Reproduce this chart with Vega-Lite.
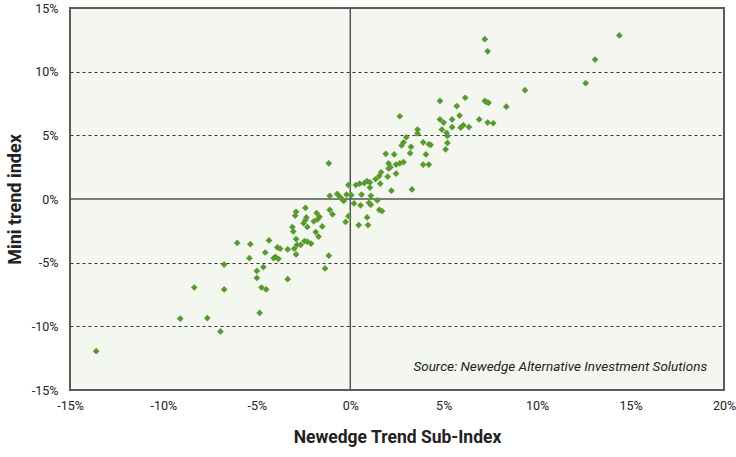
{
  "$schema": "https://vega.github.io/schema/vega-lite/v6.json",
  "width": 654,
  "height": 382,
  "autosize": "none",
  "padding": {"left": 70, "top": 8, "right": 12, "bottom": 67},
  "background": "white",
  "config": {
    "view": {"fill": "#f4f6f0", "stroke": "#5a5a5a", "strokeWidth": 2},
    "font": "Roboto"
  },
  "datasets": {
    "pts": [
      {"x": -13.6, "y": -11.95}, {"x": -9.1, "y": -9.4}, {"x": -8.35, "y": -6.95}, {"x": -7.65, "y": -9.35},
      {"x": -6.95, "y": -10.4}, {"x": -6.75, "y": -7.1}, {"x": -6.75, "y": -5.15}, {"x": -6.05, "y": -3.45},
      {"x": -5.35, "y": -3.55}, {"x": -5.4, "y": -4.65}, {"x": -5.0, "y": -5.65}, {"x": -5.0, "y": -6.2},
      {"x": -4.65, "y": -5.35}, {"x": -4.75, "y": -6.95}, {"x": -4.5, "y": -7.1}, {"x": -4.85, "y": -8.95},
      {"x": -4.35, "y": -3.25}, {"x": -4.55, "y": -4.2}, {"x": -3.9, "y": -3.8}, {"x": -4.0, "y": -4.55},
      {"x": -3.85, "y": -4.7}, {"x": -4.1, "y": -4.65}, {"x": -3.35, "y": -3.95}, {"x": -3.35, "y": -6.3},
      {"x": -3.75, "y": -3.9},
      {"x": -2.9, "y": -1.0}, {"x": -2.95, "y": -1.3}, {"x": -3.1, "y": -2.2}, {"x": -3.05, "y": -2.55},
      {"x": -2.9, "y": -3.15}, {"x": -2.85, "y": -3.6}, {"x": -3.0, "y": -3.9}, {"x": -2.9, "y": -4.35},
      {"x": -2.45, "y": -3.3}, {"x": -2.3, "y": -3.35}, {"x": -2.1, "y": -3.5}, {"x": -2.65, "y": -3.6},
      {"x": -2.4, "y": -0.7}, {"x": -2.4, "y": -1.65}, {"x": -2.3, "y": -2.2}, {"x": -2.5, "y": -1.9},
      {"x": -2.35, "y": -1.45}, {"x": -1.8, "y": -1.1}, {"x": -1.65, "y": -1.4}, {"x": -1.95, "y": -1.75},
      {"x": -1.75, "y": -1.6}, {"x": -1.5, "y": -2.15}, {"x": -1.85, "y": -2.6}, {"x": -1.7, "y": -2.95},
      {"x": -1.15, "y": -4.45}, {"x": -1.35, "y": -5.45}, {"x": -1.15, "y": 2.8}, {"x": -1.1, "y": 0.25},
      {"x": -0.7, "y": 0.4}, {"x": -0.55, "y": 0.15}, {"x": -0.45, "y": 0.0}, {"x": -0.35, "y": -0.15},
      {"x": -0.2, "y": 0.35}, {"x": 0.05, "y": 0.3}, {"x": -0.1, "y": 1.1}, {"x": -1.1, "y": -0.85},
      {"x": -0.95, "y": -1.2}, {"x": -0.1, "y": -1.35}, {"x": -0.25, "y": -1.8}, {"x": 0.2, "y": -0.35},
      {"x": 0.3, "y": 1.1}, {"x": 0.55, "y": -0.5}, {"x": 0.6, "y": 0.35}, {"x": 0.5, "y": 1.2},
      {"x": 0.75, "y": 1.25}, {"x": 0.9, "y": 1.4}, {"x": 1.05, "y": 1.3}, {"x": 1.05, "y": 0.9},
      {"x": 1.1, "y": 0.25}, {"x": 1.0, "y": -0.3}, {"x": 1.1, "y": -0.45}, {"x": 1.45, "y": -0.1},
      {"x": 1.35, "y": 1.55}, {"x": 1.55, "y": -0.85}, {"x": 1.7, "y": -0.95}, {"x": 0.9, "y": -1.45},
      {"x": 0.45, "y": -2.05}, {"x": 0.95, "y": -2.05}, {"x": 1.6, "y": 1.2}, {"x": 1.65, "y": 2.1},
      {"x": 1.55, "y": 1.8}, {"x": 2.0, "y": 1.75}, {"x": 2.45, "y": 2.0}, {"x": 2.05, "y": 2.4},
      {"x": 2.05, "y": 2.8}, {"x": 2.15, "y": 2.5}, {"x": 2.45, "y": 2.7}, {"x": 2.65, "y": 2.8},
      {"x": 2.85, "y": 2.9}, {"x": 1.9, "y": 3.55}, {"x": 2.35, "y": 3.5}, {"x": 3.2, "y": 3.6},
      {"x": 4.05, "y": 3.5}, {"x": 3.9, "y": 2.7}, {"x": 4.2, "y": 2.7}, {"x": 3.3, "y": 0.75},
      {"x": 2.2, "y": 0.65}, {"x": 2.65, "y": 6.5}, {"x": 2.75, "y": 4.2}, {"x": 2.85, "y": 4.45},
      {"x": 3.0, "y": 4.85}, {"x": 3.25, "y": 4.1}, {"x": 3.6, "y": 5.45}, {"x": 3.6, "y": 5.15},
      {"x": 3.9, "y": 4.45}, {"x": 4.2, "y": 4.3}, {"x": 4.3, "y": 4.25}, {"x": 4.8, "y": 7.7},
      {"x": 6.15, "y": 7.95}, {"x": 5.7, "y": 7.3}, {"x": 5.85, "y": 6.55}, {"x": 5.45, "y": 6.25},
      {"x": 4.8, "y": 6.25}, {"x": 5.0, "y": 6.0}, {"x": 5.45, "y": 5.65}, {"x": 4.9, "y": 5.45},
      {"x": 5.15, "y": 5.2}, {"x": 5.2, "y": 4.95}, {"x": 5.2, "y": 4.4}, {"x": 5.1, "y": 3.9},
      {"x": 5.9, "y": 5.6}, {"x": 6.05, "y": 5.8}, {"x": 6.35, "y": 5.65}, {"x": 7.2, "y": 12.55},
      {"x": 7.35, "y": 11.6}, {"x": 9.35, "y": 8.55}, {"x": 7.2, "y": 7.7}, {"x": 7.4, "y": 7.55},
      {"x": 7.3, "y": 7.6}, {"x": 8.35, "y": 7.25}, {"x": 6.9, "y": 6.25}, {"x": 7.35, "y": 6.0},
      {"x": 7.65, "y": 5.95}, {"x": 12.6, "y": 9.1}, {"x": 13.1, "y": 10.95}, {"x": 14.4, "y": 12.85}
    ]
  },
  "layer": [
    {
      "data": {"values": [{"v": 0}]},
      "mark": {"type": "rule", "color": "#555555", "strokeWidth": 1.5},
      "encoding": {"x": {"field": "v", "type": "quantitative"}}
    },
    {
      "data": {"values": [{"v": 0}]},
      "mark": {"type": "rule", "color": "#555555", "strokeWidth": 1.5},
      "encoding": {"y": {"field": "v", "type": "quantitative"}}
    },
    {
      "data": {"name": "pts"},
      "mark": {"type": "point", "shape": "diamond", "filled": true, "size": 45, "color": "#579a30", "opacity": 1},
      "encoding": {
        "x": {
          "field": "x", "type": "quantitative",
          "scale": {"domain": [-15, 20], "nice": false, "zero": false},
          "axis": {
            "values": [-15, -10, -5, 0, 5, 10, 15, 20],
            "grid": false, "ticks": false, "domain": false,
            "labelExpr": "datum.value + '%'",
            "labelFontSize": 12.5, "labelColor": "#222", "labelPadding": 9,
            "labelFlush": false,
            "title": "Newedge Trend Sub-Index",
            "titleFontSize": 17.5, "titleFontWeight": "bold", "titleColor": "#222", "titlePadding": 17
          }
        },
        "y": {
          "field": "y", "type": "quantitative",
          "scale": {"domain": [-15, 15], "nice": false, "zero": false},
          "axis": {
            "values": [-15, -10, -5, 0, 5, 10, 15],
            "grid": true, "gridColor": "#333333", "gridDash": [3, 3], "gridWidth": 1,
            "gridOpacity": {"condition": {"test": "abs(datum.value) == 15 || datum.value == 0", "value": 0}, "value": 1},
            "ticks": false, "domain": false,
            "labelExpr": "datum.value + '%'",
            "labelFontSize": 12.5, "labelColor": "#222", "labelPadding": 12,
            "labelFlush": false,
            "title": "Mini trend index",
            "titleFontSize": 18, "titleFontWeight": "bold", "titleColor": "#222", "titlePadding": 7
          }
        }
      }
    },
    {
      "data": {"values": [{"t": "Source: Newedge Alternative Investment Solutions"}]},
      "mark": {"type": "text", "align": "right", "baseline": "middle", "fontStyle": "italic", "fontSize": 13.5, "color": "#222"},
      "encoding": {
        "x": {"datum": 19.1},
        "y": {"datum": -13.2},
        "text": {"field": "t"}
      }
    }
  ]
}
